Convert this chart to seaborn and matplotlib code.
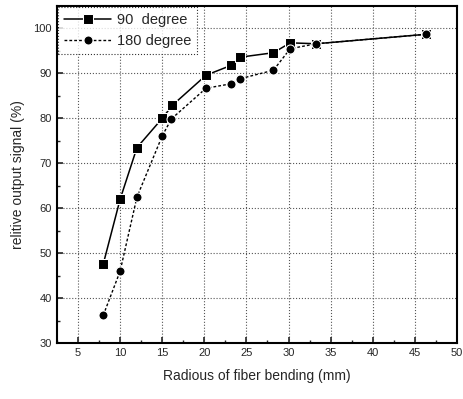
import numpy as np
import pandas as pd
import matplotlib
matplotlib.use("Agg")
import matplotlib.pyplot as plt
import seaborn as sns
from matplotlib.ticker import MultipleLocator

# 数据
radius_90 = [8, 10, 12, 15, 16.2, 20.2, 23.2, 24.2, 28.2, 30.2, 33.3, 46.3]
signal_90 = [47.6, 62.0, 73.5, 80.0, 82.9, 89.6, 91.8, 93.6, 94.6, 96.8, 96.6, 98.7]
radius_180 = [8, 10, 12, 15, 16.1, 20.2, 23.2, 24.2, 28.2, 30.2, 33.3, 46.3]
signal_180 = [36.2, 46.0, 62.5, 76.1, 79.9, 86.7, 87.7, 88.8, 90.7, 95.5, 96.6, 98.7]

sns.set_style("white")
plt.rcParams['font.family'] = ['Liberation Sans', 'DejaVu Sans']

fig = plt.figure(figsize=(4.63, 3.99), dpi=100)
ax = fig.add_axes([0.123, 0.14, 0.864, 0.845])

df90 = pd.DataFrame({'x': radius_90, 'y': signal_90})
df180 = pd.DataFrame({'x': radius_180, 'y': signal_180})

sns.lineplot(data=df90, x='x', y='y', ax=ax, color='black', marker='s',
             markersize=6.5, linewidth=1.1, linestyle='-', label='90  degree')
sns.lineplot(data=df180, x='x', y='y', ax=ax, color='black', marker='o',
             markersize=6.5, linewidth=1.0, linestyle=(0, (2, 1.5)), label='180 degree')

ax.set_xlim(2.5, 50)
ax.set_ylim(30, 105)
ax.xaxis.set_major_locator(MultipleLocator(5))
ax.xaxis.set_minor_locator(MultipleLocator(2.5))
ax.yaxis.set_major_locator(MultipleLocator(10))
ax.yaxis.set_minor_locator(MultipleLocator(5))
ax.grid(True, which='major', color='#555555', linestyle=':', linewidth=0.8)
ax.tick_params(which='major', direction='in', length=4, width=1.2, labelsize=8,
               bottom=True, left=True)
ax.tick_params(which='minor', direction='in', length=2.5, width=1, bottom=True, left=True)
for s in ax.spines.values():
    s.set_linewidth(1.5)
    s.set_color('black')

ax.set_xlabel('Radious of fiber bending (mm)', fontsize=10, labelpad=8)
ax.set_ylabel('relitive output signal (%)', fontsize=10, labelpad=6)

leg = ax.legend(loc='upper left', fontsize=10.5, frameon=True, fancybox=False,
                edgecolor='black', borderaxespad=0.1, handlelength=3.2,
                borderpad=0.4, labelspacing=0.45, handletextpad=0.4)
leg.get_frame().set_linewidth(0.8)
leg.get_frame().set_linestyle(':')

fig.savefig('out.png', dpi=100)
plt.close(fig)
